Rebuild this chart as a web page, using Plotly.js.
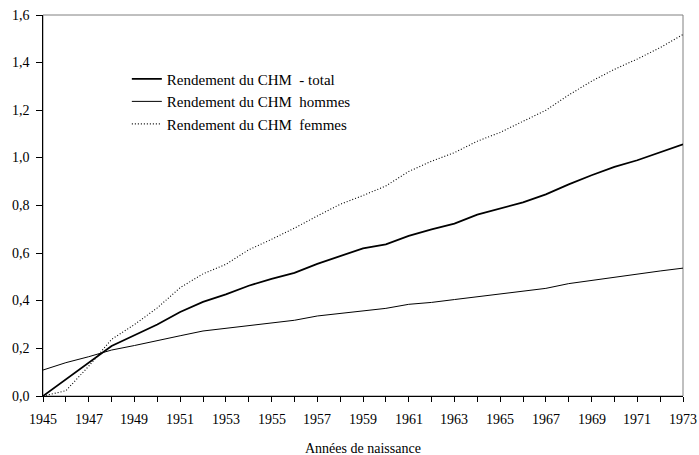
<!DOCTYPE html>
<html>
<head>
<meta charset="utf-8">
<script src="https://cdn.plot.ly/plotly-3.0.1.min.js"></script>
<style>
html,body{margin:0;padding:0;background:#fff;}
#chart{width:699px;height:455px;}
</style>
</head>
<body>
<div id="chart"></div>
<script>
const years = [1945,1946,1947,1948,1949,1950,1951,1952,1953,1954,1955,1956,1957,1958,1959,1960,1961,1962,1963,1964,1965,1966,1967,1968,1969,1970,1971,1972,1973];
const total = [0.0,0.07,0.14,0.21,0.255,0.30,0.353,0.395,0.427,0.463,0.492,0.517,0.555,0.588,0.62,0.637,0.672,0.70,0.724,0.762,0.789,0.813,0.847,0.889,0.927,0.962,0.99,1.023,1.057];
const hommes = [0.109,0.14,0.165,0.193,0.212,0.231,0.253,0.273,0.284,0.298,0.309,0.318,0.336,0.347,0.36,0.368,0.385,0.393,0.405,0.417,0.43,0.439,0.452,0.472,0.486,0.5,0.511,0.525,0.537];
const femmes = [0.0,0.022,0.125,0.238,0.30,0.37,0.455,0.513,0.553,0.614,0.658,0.705,0.756,0.805,0.842,0.882,0.943,0.986,1.022,1.07,1.107,1.155,1.2,1.264,1.322,1.372,1.415,1.463,1.518];
const names = ["Rendement du CHM\u00a0\u00a0- total","Rendement du CHM\u00a0\u00a0hommes","Rendement du CHM\u00a0\u00a0femmes"];
const yTicks = [0,0.2,0.4,0.6,0.8,1.0,1.2,1.4,1.6];
const yTickText = ["0,0","0,2","0,4","0,6","0,8","1,0","1,2","1,4","1,6"];
const xLabelYears = [1945,1947,1949,1951,1953,1955,1957,1959,1961,1963,1965,1967,1969,1971,1973];
const xTitle = "Années de naissance";

const fam = "Liberation Serif";
function F(size) { return {family: fam, size: size, color: "#000"}; }
const traces = [
  {x: years, y: total, name: names[0], mode: "lines", line: {color: "#000", width: 1.8}},
  {x: years, y: hommes, name: names[1], mode: "lines", line: {color: "#000", width: 1}},
  {x: years, y: femmes, name: names[2], mode: "lines", line: {color: "#000", width: 1.1, dash: "1px,2px"}}
];

const annotations = [];
xLabelYears.forEach(function (yr) {
  annotations.push({x: yr, xref: "x", y: 0, yref: "paper", text: String(yr), showarrow: false,
    xanchor: "center", yanchor: "middle", yshift: -23, font: F(14)});
});
yTicks.forEach(function (v, i) {
  annotations.push({x: 0, xref: "paper", y: v, yref: "y", text: yTickText[i], showarrow: false,
    xanchor: "right", yanchor: "middle", xshift: -11, font: F(14)});
});
annotations.push({x: 0.5, xref: "paper", y: 0, yref: "paper", text: xTitle, showarrow: false,
  xanchor: "center", yanchor: "middle", yshift: -52, font: F(14)});

const layout = {
  width: 699, height: 455,
  margin: {l: 43, r: 16, t: 15, b: 59},
  paper_bgcolor: "#fff", plot_bgcolor: "#fff",
  font: F(14),
  showlegend: true,
  legend: {x: 0.131, y: 0.875, xanchor: "left", yanchor: "top", bgcolor: "rgba(0,0,0,0)", font: F(15), tracegroupgap: 0, itemwidth: 30},
  xaxis: {
    range: [1945, 1973], showgrid: false, zeroline: false,
    showline: true, linecolor: "#000", linewidth: 1,
    tickmode: "array", tickvals: years, showticklabels: false,
    ticks: "outside", ticklen: 5, tickcolor: "#000"
  },
  xaxis2: {
    overlaying: "x", anchor: "y", side: "bottom", range: [1945, 1973],
    showgrid: false, zeroline: false, showline: false, showticklabels: false,
    tickmode: "array", tickvals: years, ticks: "inside", ticklen: 5, tickcolor: "#000"
  },
  yaxis: {
    range: [0, 1.6], showgrid: false, zeroline: false,
    showline: true, linecolor: "#000", linewidth: 1,
    tickmode: "array", tickvals: yTicks, showticklabels: false,
    ticks: "outside", ticklen: 6, tickcolor: "#000"
  },
  annotations: annotations,
  shapes: [
    {type: "rect", xref: "paper", yref: "paper", x0: 0, x1: 1, y0: 0, y1: 1, line: {color: "#808080", width: 1}, layer: "below"}
  ]
};
Plotly.newPlot("chart", traces, layout, {staticPlot: true, displayModeBar: false});
</script>
</body>
</html>
